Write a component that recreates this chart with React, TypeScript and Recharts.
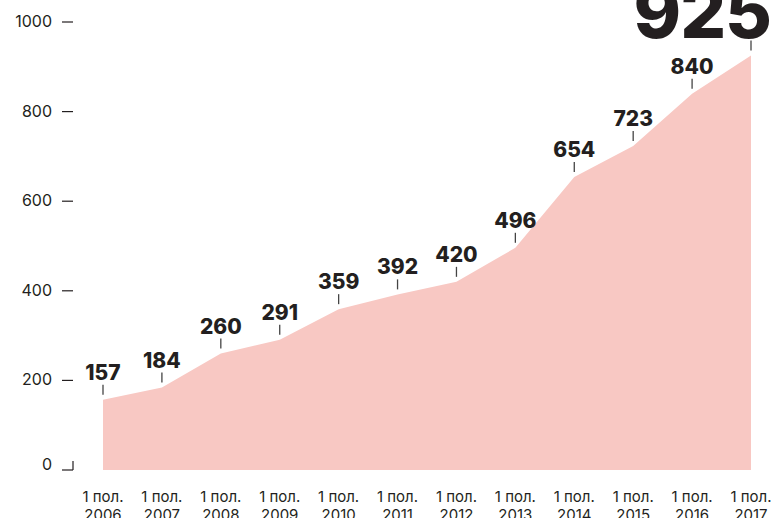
import React from "react";
import { AreaChart, Area, XAxis, YAxis } from "recharts";

const periods = [
  "2006", "2007", "2008", "2009", "2010", "2011",
  "2012", "2013", "2014", "2015", "2016", "2017",
];
const values = [157, 184, 260, 291, 359, 392, 420, 496, 654, 723, 840, 925];
const yTicks = [0, 200, 400, 600, 800, 1000];

const data = periods.map((year, i) => ({ year, value: values[i] }));

const FONT = "Inter, 'Noto Sans', sans-serif";
const INK = "#231f20";

const YTick = (props: any) => {
  const { y, payload } = props;
  const isZero = payload.value === 0;
  return (
    <g>
      <text x={52} y={isZero ? y : y + 5} textAnchor="end" fontSize={16} fill={INK} fontFamily={FONT}>
        {payload.value}
      </text>
      <line x1={62} x2={73} y1={y} y2={y} stroke={INK} strokeWidth={1.2} />
      {isZero && <line x1={73} x2={73} y1={y} y2={y - 9} stroke={INK} strokeWidth={1.2} />}
    </g>
  );
};

const XTick = (props: any) => {
  const { x, y, payload } = props;
  return (
    <g>
      <text x={x} y={y + 24} textAnchor="middle" fontSize={15} fill={INK} fontFamily={FONT}>
        1 пол.
      </text>
      <text x={x} y={y + 42} textAnchor="middle" fontSize={15} fill={INK} fontFamily={FONT}>
        {payload.value}
      </text>
    </g>
  );
};

const PointLabel = (props: any) => {
  const { x, y, value, index } = props;
  const last = index === values.length - 1;
  return (
    <g>
      <line x1={x} x2={x} y1={y - 15} y2={y - 5} stroke="#444" strokeWidth={1.3} />
      {last ? (
        <text x={x + 20} y={y - 18} textAnchor="end" fontSize={72} fontWeight={800}
          fill={INK} fontFamily={FONT} letterSpacing={-1}>
          {value}
        </text>
      ) : (
        <text x={x} y={y - 20} textAnchor="middle" fontSize={21} fontWeight={800}
          fill={INK} fontFamily={FONT}>
          {value}
        </text>
      )}
    </g>
  );
};

export default function App() {
  return (
    <div style={{ position: "absolute", left: 0, top: 0, background: "#fff" }}>
      <AreaChart
        width={776}
        height={518}
        data={data}
        margin={{ top: 22, right: 25, bottom: 0, left: 0 }}
      >
        <XAxis
          dataKey="year"
          height={48}
          axisLine={false}
          tickLine={false}
          tick={<XTick />}
          interval={0}
        />
        <YAxis
          width={103}
          domain={[0, 1000]}
          ticks={yTicks}
          axisLine={false}
          tickLine={false}
          tick={<YTick />}
        />
        <Area
          type="linear"
          dataKey="value"
          stroke="none"
          fill="#f8c8c3"
          fillOpacity={1}
          isAnimationActive={false}
          label={<PointLabel />}
        />
      </AreaChart>
    </div>
  );
}
